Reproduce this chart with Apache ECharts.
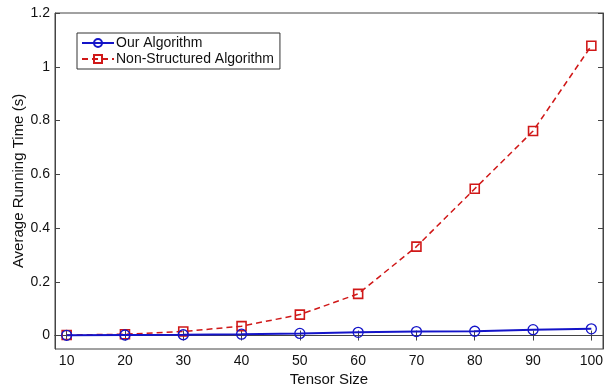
<!DOCTYPE html>
<html><head><meta charset="utf-8">
<script src="https://cdn.jsdelivr.net/npm/echarts@6/dist/echarts.min.js"></script>
<style>html,body{margin:0;padding:0;background:#fff}#c{width:604px;height:387px}</style>
</head><body><div id="c"></div>
<script>
var tensorSizes = [10, 20, 30, 40, 50, 60, 70, 80, 90, 100];
var ourAlgorithm = [0.001, 0.002, 0.003, 0.005, 0.008, 0.012, 0.015, 0.016, 0.022, 0.025];
var nonStructured = [0.002, 0.005, 0.015, 0.035, 0.078, 0.155, 0.331, 0.546, 0.761, 1.078];
var xTicks = [10, 20, 30, 40, 50, 60, 70, 80, 90, 100];
var yTicks = [0, 0.2, 0.4, 0.6, 0.8, 1, 1.2];
var seriesNames = ['Our Algorithm', 'Non-Structured Algorithm'];

function pairs(xs, ys) { return xs.map(function (x, i) { return [x, ys[i]]; }); }
var font = 'Liberation Sans, Arial, sans-serif';
var chart = echarts.init(document.getElementById('c'));
var axisLineStyle = { color: '#444', width: 1 };
chart.setOption({
  animation: false,
  grid: { left: 55, right: 1, top: 13, bottom: 38, outerBoundsMode: 'none', containLabel: false,
    show: true, borderColor: '#444', borderWidth: 1 },
  legend: {
    orient: 'vertical', left: 77, top: 33, itemWidth: 32, itemHeight: 10, itemGap: 2,
    padding: [3, 6, 3, 4], borderColor: '#333', borderWidth: 1, backgroundColor: '#fff',
    textStyle: { fontFamily: font, fontSize: 14, color: '#111', padding: [0, 0, 0, -3] },
    data: seriesNames
  },
  xAxis: [{
    type: 'value', min: 8, max: 102,
    name: 'Tensor Size', nameLocation: 'middle', nameGap: 23, nameMoveOverlap: false,
    nameTextStyle: { fontFamily: font, fontSize: 15, color: '#111' },
    axisLine: { show: true, lineStyle: axisLineStyle },
    axisTick: { show: true, inside: true, length: 5, customValues: xTicks, lineStyle: axisLineStyle },
    axisLabel: { customValues: xTicks, fontFamily: font, fontSize: 14, color: '#111', margin: 5 },
    splitLine: { show: false }
  }, {
    type: 'value', min: 8, max: 102, position: 'top',
    axisLine: { show: true, lineStyle: axisLineStyle },
    axisTick: { show: true, inside: true, length: 5, customValues: xTicks, lineStyle: axisLineStyle },
    axisLabel: { show: false }, splitLine: { show: false }
  }],
  yAxis: [{
    type: 'value', min: -0.05, max: 1.2,
    name: 'Average Running Time (s)', nameLocation: 'middle', nameGap: 29, nameMoveOverlap: false,
    nameTextStyle: { fontFamily: font, fontSize: 15, color: '#111' },
    axisLine: { show: true, lineStyle: axisLineStyle },
    axisTick: { show: true, inside: true, length: 5, customValues: yTicks, lineStyle: axisLineStyle },
    axisLabel: { customValues: yTicks, fontFamily: font, fontSize: 14, color: '#111', margin: 5,
      formatter: function (v) { return String(Math.round(v * 10) / 10); } },
    splitLine: { show: false }
  }, {
    type: 'value', min: -0.05, max: 1.2, position: 'right',
    axisLine: { show: true, lineStyle: axisLineStyle },
    axisTick: { show: true, inside: true, length: 5, customValues: yTicks, lineStyle: axisLineStyle },
    axisLabel: { show: false }, splitLine: { show: false }
  }],
  series: [{
    name: seriesNames[0], type: 'line', data: pairs(tensorSizes, ourAlgorithm),
    symbol: 'circle', symbolSize: 10, color: '#1414c8',
    lineStyle: { color: '#1414c8', width: 2 },
    itemStyle: { color: 'rgba(255,255,255,0)', borderColor: '#1414c8', borderWidth: 1.3 }, z: 3
  }, {
    name: seriesNames[1], type: 'line', data: pairs(tensorSizes, nonStructured),
    symbol: 'rect', symbolSize: 9, color: '#d01818',
    lineStyle: { color: '#d01818', width: 1.5, type: [6, 4] },
    itemStyle: { color: 'rgba(255,255,255,0)', borderColor: '#d01818', borderWidth: 1.6 }, z: 2
  }]
});
</script></body></html>
